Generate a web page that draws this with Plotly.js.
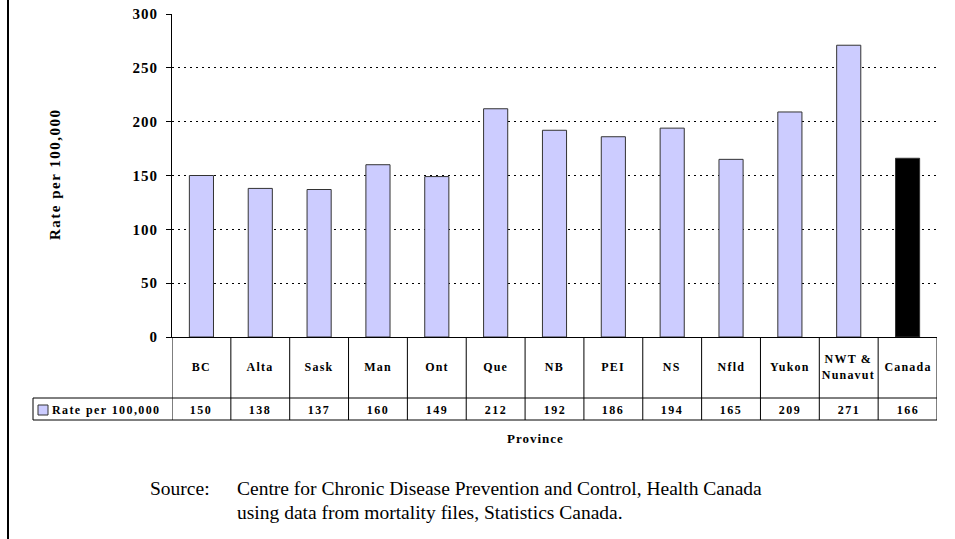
<!DOCTYPE html>
<html>
<head>
<meta charset="utf-8">
<script src="https://cdn.plot.ly/plotly-3.0.1.min.js"></script>
<style>
html,body{margin:0;padding:0;background:#fff;}
#chart{width:955px;height:539px;}
.ytick text{letter-spacing:1px;}
</style>
</head>
<body>
<div id="chart"></div>
<script>
// ---- data ----
const categories = ['BC','Alta','Sask','Man','Ont','Que','NB','PEI','NS','Nfld','Yukon','NWT &<br>Nunavut','Canada'];
const rates = [150,138,137,160,149,212,192,186,194,165,209,271,166];
const seriesName = 'Rate per 100,000';
const yTicks = [0,50,100,150,200,250,300];
const xTitle = 'Province';
const sourceLabel = 'Source:';
const sourceLines = ['Centre for Chronic Disease Prevention and Control, Health Canada','using data from mortality files, Statistics Canada.'];

// ---- layout helpers (pixel -> paper) ----
const W=955,H=539, L=172, R=18, T=14, B=202;
const pw=W-L-R, ph=H-T-B;
const px=x=>(x-L)/pw;
const py=y=>(H-B-y)/ph;

const serif='Liberation Serif, Times New Roman, serif';
const colors = categories.map(c=>c==='Canada'?'#000000':'#CCCCFF');

const trace = {
  type:'bar', x:categories, y:rates, name:seriesName,
  marker:{color:colors, line:{color:'#333333', width:1}},
  width:0.41, showlegend:false, hoverinfo:'x+y'
};

const shapes=[];
const annotations=[];
const spaced=[]; // [index, spacing]
const n=categories.length;
// table vertical lines
for(let i=0;i<=n;i++){
  shapes.push({type:'line', xref:'x', yref:'paper', x0:i-0.5, x1:i-0.5, y0:py(337), y1:py(420), line:{color:'#000', width:1}});
}
// table horizontal lines
shapes.push({type:'line', xref:'paper', yref:'paper', x0:px(33), x1:1, y0:py(398), y1:py(398), line:{color:'#000', width:1}});
shapes.push({type:'line', xref:'paper', yref:'paper', x0:px(33), x1:1, y0:py(420), y1:py(420), line:{color:'#000', width:1}});
shapes.push({type:'line', xref:'paper', yref:'paper', x0:px(33), x1:px(33), y0:py(398), y1:py(420), line:{color:'#000', width:1}});
// legend key
shapes.push({type:'rect', xref:'paper', yref:'paper', x0:px(38), x1:px(48), y0:py(405), y1:py(415), fillcolor:'#CCCCFF', line:{color:'#333', width:1}});
// page border line at left
shapes.push({type:'line', xref:'paper', yref:'paper', x0:px(8), x1:px(8), y0:py(0), y1:py(539), line:{color:'#000', width:2}});

function addAnn(a, sp){ annotations.push(a); if(sp) spaced.push([annotations.length-1, sp]); }

categories.forEach((c,i)=>{
  addAnn({xref:'x', yref:'paper', x:c, y:py(367), text:'<b>'+c+'</b>', showarrow:false, font:{family:serif, size:12, color:'#000'}, yanchor:'middle'}, 1.2);
  addAnn({xref:'x', yref:'paper', x:c, y:py(410), text:'<b>'+rates[i]+'</b>', showarrow:false, font:{family:serif, size:12, color:'#000'}, yanchor:'middle'}, 1.5);
});
addAnn({xref:'paper', yref:'paper', x:px(50), y:py(410), xanchor:'left', align:'left', yanchor:'middle', text:'<b>'+seriesName+'</b>', showarrow:false, font:{family:serif, size:12, color:'#000'}}, 1.4);
addAnn({xref:'paper', yref:'paper', x:px(535), y:py(438), xanchor:'center', yanchor:'middle', text:'<b>'+xTitle+'</b>', showarrow:false, font:{family:serif, size:13, color:'#000'}}, 1);
addAnn({xref:'paper', yref:'paper', x:px(55), y:py(174), xanchor:'center', yanchor:'middle', textangle:-90, text:'<b>'+seriesName+'</b>', showarrow:false, font:{family:serif, size:15, color:'#000'}}, 1.5);
addAnn({xref:'paper', yref:'paper', x:px(148), y:py(488), xanchor:'left', align:'left', yanchor:'middle', text:sourceLabel, showarrow:false, font:{family:serif, size:19.5, color:'#000'}});
sourceLines.forEach((t,k)=>{
  addAnn({xref:'paper', yref:'paper', x:px(235), y:py(488+24*k), xanchor:'left', align:'left', yanchor:'middle', text:t, showarrow:false, font:{family:serif, size:19.5, color:'#000'}});
});

const layout = {
  width:W, height:H,
  margin:{l:L, r:R, t:T, b:B},
  paper_bgcolor:'#fff', plot_bgcolor:'#fff',
  bargap:0.59,
  xaxis:{type:'category', showticklabels:false, showgrid:false, zeroline:false, showline:true, linecolor:'#000', linewidth:1, ticks:'', range:[-0.5,n-0.5], fixedrange:true},
  yaxis:{range:[0,300], tickvals:yTicks, ticktext:yTicks.map(String), showgrid:true, gridcolor:'#000', griddash:'2px,4px', gridwidth:1,
         showline:true, linecolor:'#000', linewidth:1, ticks:'outside', ticklen:5, tickcolor:'#000',
         zeroline:false, tickfont:{family:serif, size:15, color:'#000', weight:'bold'}, ticklabelstandoff:5},
  shapes:shapes, annotations:annotations
};

Plotly.newPlot('chart',[trace],layout,{displayModeBar:false, staticPlot:true}).then(gd=>{
  spaced.forEach(([i,sp])=>{
    const g=gd.querySelector('.annotation[data-index="'+i+'"] text.annotation-text');
    if(g) g.style.letterSpacing=sp+'px';
  });
});
</script>
</body>
</html>
